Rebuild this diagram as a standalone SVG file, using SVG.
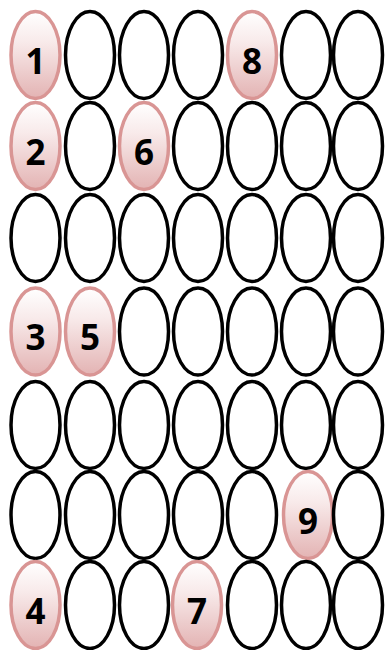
<svg xmlns="http://www.w3.org/2000/svg" width="385" height="650" viewBox="0 0 385 650">
<defs>
<linearGradient id="pk" x1="0" y1="0" x2="0" y2="1">
<stop offset="0" stop-color="#ffffff"/>
<stop offset="0.35" stop-color="#f8eaea"/>
<stop offset="1" stop-color="#e3b3b3"/>
</linearGradient>
<ellipse id="e" cx="0" cy="0" rx="24.5" ry="43.5"/>
</defs>
<style>
.b{fill:#fff;stroke:#000;stroke-width:3.5}
.p{fill:url(#pk);stroke:#d99594;stroke-width:3.5}
.t{font-family:"Open Sans","Liberation Sans",sans-serif;font-weight:bold;font-size:35px;text-anchor:middle;fill:#000}
</style>
<rect width="385" height="650" fill="#fff"/>
<g id="grid">
<g id="r1c1"><use href="#e" x="35.5" y="55" class="p"/><text class="t" x="35.5" y="73.5">1</text></g>
<g id="r1c2"><use href="#e" x="90" y="55" class="b"/></g>
<g id="r1c3"><use href="#e" x="144" y="55" class="b"/></g>
<g id="r1c4"><use href="#e" x="198" y="55" class="b"/></g>
<g id="r1c5"><use href="#e" x="252" y="55" class="p"/><text class="t" x="252" y="73.5">8</text></g>
<g id="r1c6"><use href="#e" x="306" y="55" class="b"/></g>
<g id="r1c7"><use href="#e" x="358" y="55" class="b"/></g>
<g id="r2c1"><use href="#e" x="35.5" y="146" class="p"/><text class="t" x="35.5" y="164.5">2</text></g>
<g id="r2c2"><use href="#e" x="90" y="146" class="b"/></g>
<g id="r2c3"><use href="#e" x="144" y="146" class="p"/><text class="t" x="144" y="164.5">6</text></g>
<g id="r2c4"><use href="#e" x="198" y="146" class="b"/></g>
<g id="r2c5"><use href="#e" x="252" y="146" class="b"/></g>
<g id="r2c6"><use href="#e" x="306" y="146" class="b"/></g>
<g id="r2c7"><use href="#e" x="358" y="146" class="b"/></g>
<g id="r3c1"><use href="#e" x="35.5" y="238" class="b"/></g>
<g id="r3c2"><use href="#e" x="90" y="238" class="b"/></g>
<g id="r3c3"><use href="#e" x="144" y="238" class="b"/></g>
<g id="r3c4"><use href="#e" x="198" y="238" class="b"/></g>
<g id="r3c5"><use href="#e" x="252" y="238" class="b"/></g>
<g id="r3c6"><use href="#e" x="306" y="238" class="b"/></g>
<g id="r3c7"><use href="#e" x="358" y="238" class="b"/></g>
<g id="r4c1"><use href="#e" x="35.5" y="331.5" class="p"/><text class="t" x="35.5" y="350">3</text></g>
<g id="r4c2"><use href="#e" x="90" y="331.5" class="p"/><text class="t" x="90" y="350">5</text></g>
<g id="r4c3"><use href="#e" x="144" y="331.5" class="b"/></g>
<g id="r4c4"><use href="#e" x="198" y="331.5" class="b"/></g>
<g id="r4c5"><use href="#e" x="252" y="331.5" class="b"/></g>
<g id="r4c6"><use href="#e" x="306" y="331.5" class="b"/></g>
<g id="r4c7"><use href="#e" x="358" y="331.5" class="b"/></g>
<g id="r5c1"><use href="#e" x="35.5" y="425" class="b"/></g>
<g id="r5c2"><use href="#e" x="90" y="425" class="b"/></g>
<g id="r5c3"><use href="#e" x="144" y="425" class="b"/></g>
<g id="r5c4"><use href="#e" x="198" y="425" class="b"/></g>
<g id="r5c5"><use href="#e" x="252" y="425" class="b"/></g>
<g id="r5c6"><use href="#e" x="306" y="425" class="b"/></g>
<g id="r5c7"><use href="#e" x="358" y="425" class="b"/></g>
<g id="r6c1"><use href="#e" x="35.5" y="515" class="b"/></g>
<g id="r6c2"><use href="#e" x="90" y="515" class="b"/></g>
<g id="r6c3"><use href="#e" x="144" y="515" class="b"/></g>
<g id="r6c4"><use href="#e" x="198" y="515" class="b"/></g>
<g id="r6c5"><use href="#e" x="252" y="515" class="b"/></g>
<g id="r6c6"><use href="#e" x="308" y="515" class="p"/><text class="t" x="308" y="533.5">9</text></g>
<g id="r6c7"><use href="#e" x="358" y="515" class="b"/></g>
<g id="r7c1"><use href="#e" x="35.5" y="605" class="p"/><text class="t" x="35.5" y="623.5">4</text></g>
<g id="r7c2"><use href="#e" x="90" y="605" class="b"/></g>
<g id="r7c3"><use href="#e" x="144" y="605" class="b"/></g>
<g id="r7c4"><use href="#e" x="197" y="605" class="p"/><text class="t" x="197" y="623.5">7</text></g>
<g id="r7c5"><use href="#e" x="252" y="605" class="b"/></g>
<g id="r7c6"><use href="#e" x="306" y="605" class="b"/></g>
<g id="r7c7"><use href="#e" x="358" y="605" class="b"/></g>
</g>
<g id="connectors"/>
</svg>
